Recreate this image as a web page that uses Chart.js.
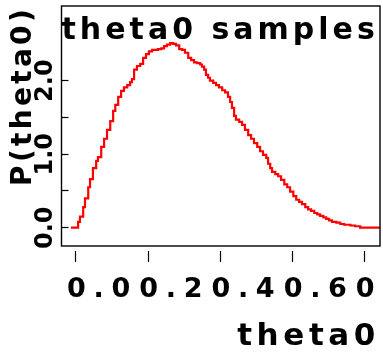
<!DOCTYPE html>
<html>
<head>
<meta charset="utf-8">
<script src="https://cdn.jsdelivr.net/npm/chart.js@4.4.1/dist/chart.umd.min.js"></script>
<style>
  body { margin: 0; background: #fff; }
  #wrap { width: 381px; height: 360px; }
</style>
</head>
<body>
<div id="wrap"><canvas id="myChart"></canvas></div>
<script>
// density of theta0 samples
const thetaX = [-0.014, 0.000, 0.006, 0.011, 0.020, 0.025, 0.034, 0.039, 0.047, 0.056,
  0.061, 0.070, 0.078, 0.086, 0.095, 0.103, 0.109, 0.117, 0.125, 0.133,
  0.142, 0.150, 0.155, 0.161, 0.169, 0.178, 0.186, 0.194, 0.202, 0.211,
  0.219, 0.227, 0.236, 0.244, 0.252, 0.261, 0.269, 0.277, 0.286, 0.294,
  0.302, 0.311, 0.319, 0.327, 0.335, 0.344, 0.349, 0.355, 0.360, 0.366,
  0.371, 0.380, 0.388, 0.396, 0.405, 0.413, 0.421, 0.427, 0.432, 0.438,
  0.443, 0.452, 0.460, 0.468, 0.477, 0.485, 0.493, 0.502, 0.510, 0.518,
  0.527, 0.532, 0.538, 0.543, 0.552, 0.560, 0.568, 0.577, 0.585, 0.593,
  0.602, 0.610, 0.618, 0.626, 0.635, 0.643, 0.651, 0.660, 0.668, 0.676,
  0.685, 0.693, 0.701, 0.709, 0.721, 0.732, 0.743, 0.760, 0.773, 0.781,
  0.787, 0.850];
const density = [0, 0, 0.08, 0.15, 0.28, 0.40, 0.55, 0.66, 0.81, 0.91,
  0.96, 1.10, 1.21, 1.33, 1.45, 1.59, 1.67, 1.78, 1.86, 1.91,
  1.94, 1.98, 2.02, 2.15, 2.20, 2.23, 2.31, 2.36, 2.40, 2.42,
  2.42, 2.43, 2.44, 2.47, 2.49, 2.51, 2.50, 2.48, 2.43, 2.42,
  2.38, 2.31, 2.28, 2.25, 2.24, 2.22, 2.19, 2.15, 2.08, 2.04,
  2.00, 1.97, 1.94, 1.91, 1.87, 1.84, 1.78, 1.71, 1.63, 1.52,
  1.47, 1.44, 1.40, 1.33, 1.26, 1.21, 1.15, 1.10, 1.04, 0.99,
  0.95, 0.87, 0.81, 0.76, 0.73, 0.70, 0.65, 0.59, 0.55, 0.49,
  0.43, 0.38, 0.35, 0.32, 0.28, 0.25, 0.23, 0.20, 0.18, 0.16,
  0.14, 0.12, 0.10, 0.08, 0.07, 0.05, 0.04, 0.03, 0.02, 0.02,
  0, 0];
const xTicks = [0, 0.2, 0.4, 0.6, 0.8];
const xTickLabels = ['0.0', '0.2', '0.4', '0.6', '0.8'];
const yTicks = [0, 0.5, 1, 1.5, 2];
const yTickLabels = ['0.0', '', '1.0', '', '2.0'];

const family = "'DejaVu Sans', sans-serif";
// the original lettering is very wide, so spread the letters out (keyed by font size)
const spacingBySize = {31: 4.6, 30: 4, 28: 3.3, 27: 7.7};

const spacingPlugin = {
  id: 'spacing',
  beforeDraw(chart) {
    const ctx = chart.ctx;
    if (ctx.spacedText) return;
    const fill = ctx.fillText;
    ctx.fillText = function (text, x, y, maxWidth) {
      const m = /(\d+)px/.exec(this.font);
      this.letterSpacing = ((m && spacingBySize[m[1]]) || 0) + 'px';
      if (maxWidth === undefined) fill.call(this, text, x, y);
      else fill.call(this, text, x, y, maxWidth);
    };
    ctx.spacedText = true;
  }
};

// box round the plot region, like R's box()
const boxPlugin = {
  id: 'box',
  afterDatasetsDraw(chart) {
    const {ctx, chartArea} = chart;
    ctx.save();
    ctx.strokeStyle = '#000';
    ctx.lineWidth = 1.4;
    ctx.strokeRect(chartArea.left, chartArea.top, chartArea.width, chartArea.height);
    ctx.restore();
  }
};

Chart.defaults.color = '#000';
const ctx = document.getElementById('myChart').getContext('2d');
const sampleChart = new Chart(ctx, {
  type: 'line',
  data: {
    datasets: [{
      label: 'theta0',
      data: thetaX.map((x, i) => ({x: x, y: density[i]})),
      borderColor: '#ff0000',
      backgroundColor: '#ff0000',
      borderWidth: 2.2,
      pointRadius: 0,
      stepped: 'before',
      fill: false
    }]
  },
  options: {
    animation: false,
    responsive: true,
    maintainAspectRatio: false,
    layout: { padding: { left: 0, right: 1, top: 0, bottom: 0 } },
    plugins: {
      legend: { display: false },
      tooltip: { enabled: false },
      title: {
        display: true,
        text: 'theta0 samples',
        align: 'start',
        fullSize: false,
        color: '#000',
        font: { size: 30, weight: 'bold', family: family },
        padding: { top: 13.6, bottom: -43.6 }
      }
    },
    scales: {
      x: {
        type: 'linear',
        min: -0.04,
        max: 0.842,
        bounds: 'data',
        afterBuildTicks: s => { s.ticks = xTicks.map(v => ({value: v})); },
        afterFit: s => { s.height = 114; s.paddingLeft = 0; s.paddingRight = 0; },
        border: { display: false },
        grid: {
          drawOnChartArea: false,
          tickLength: 16,
          tickColor: '#000',
          tickWidth: 1.2,
          tickBorderDash: [11, 5],
          tickBorderDashOffset: 11
        },
        ticks: {
          autoSkip: false,
          minRotation: 0,
          maxRotation: 0,
          padding: 11.5,
          labelOffset: 26.5,
          color: '#000',
          font: { size: 27, weight: 'bold', family: family },
          callback: (v, i) => xTickLabels[i]
        },
        title: {
          display: true,
          text: 'theta0',
          align: 'end',
          color: '#000',
          font: { size: 31, weight: 'bold', family: family },
          padding: { top: 0, bottom: 4.1 }
        }
      },
      y: {
        type: 'linear',
        min: -0.249,
        max: 3.016,
        bounds: 'data',
        afterBuildTicks: s => { s.ticks = yTicks.map(v => ({value: v})); },
        afterFit: s => { s.width = 61.5; s.paddingTop = 0; s.paddingBottom = 0; },
        border: { display: false },
        grid: {
          drawOnChartArea: false,
          tickLength: -7,
          tickColor: '#000',
          tickWidth: 1.2
        },
        ticks: {
          autoSkip: false,
          minRotation: 90,
          maxRotation: 90,
          crossAlign: 'center',
          padding: 1.8,
          color: '#000',
          font: { size: 24, weight: 'bold', family: family },
          callback: (v, i) => yTickLabels[i]
        },
        title: {
          display: true,
          text: 'P(theta0)',
          align: 'end',
          color: '#000',
          font: { size: 28, weight: 'bold', family: family },
          padding: { top: 6.5, bottom: 0 }
        }
      }
    }
  },
  plugins: [spacingPlugin, boxPlugin]
});
</script>
</body>
</html>
